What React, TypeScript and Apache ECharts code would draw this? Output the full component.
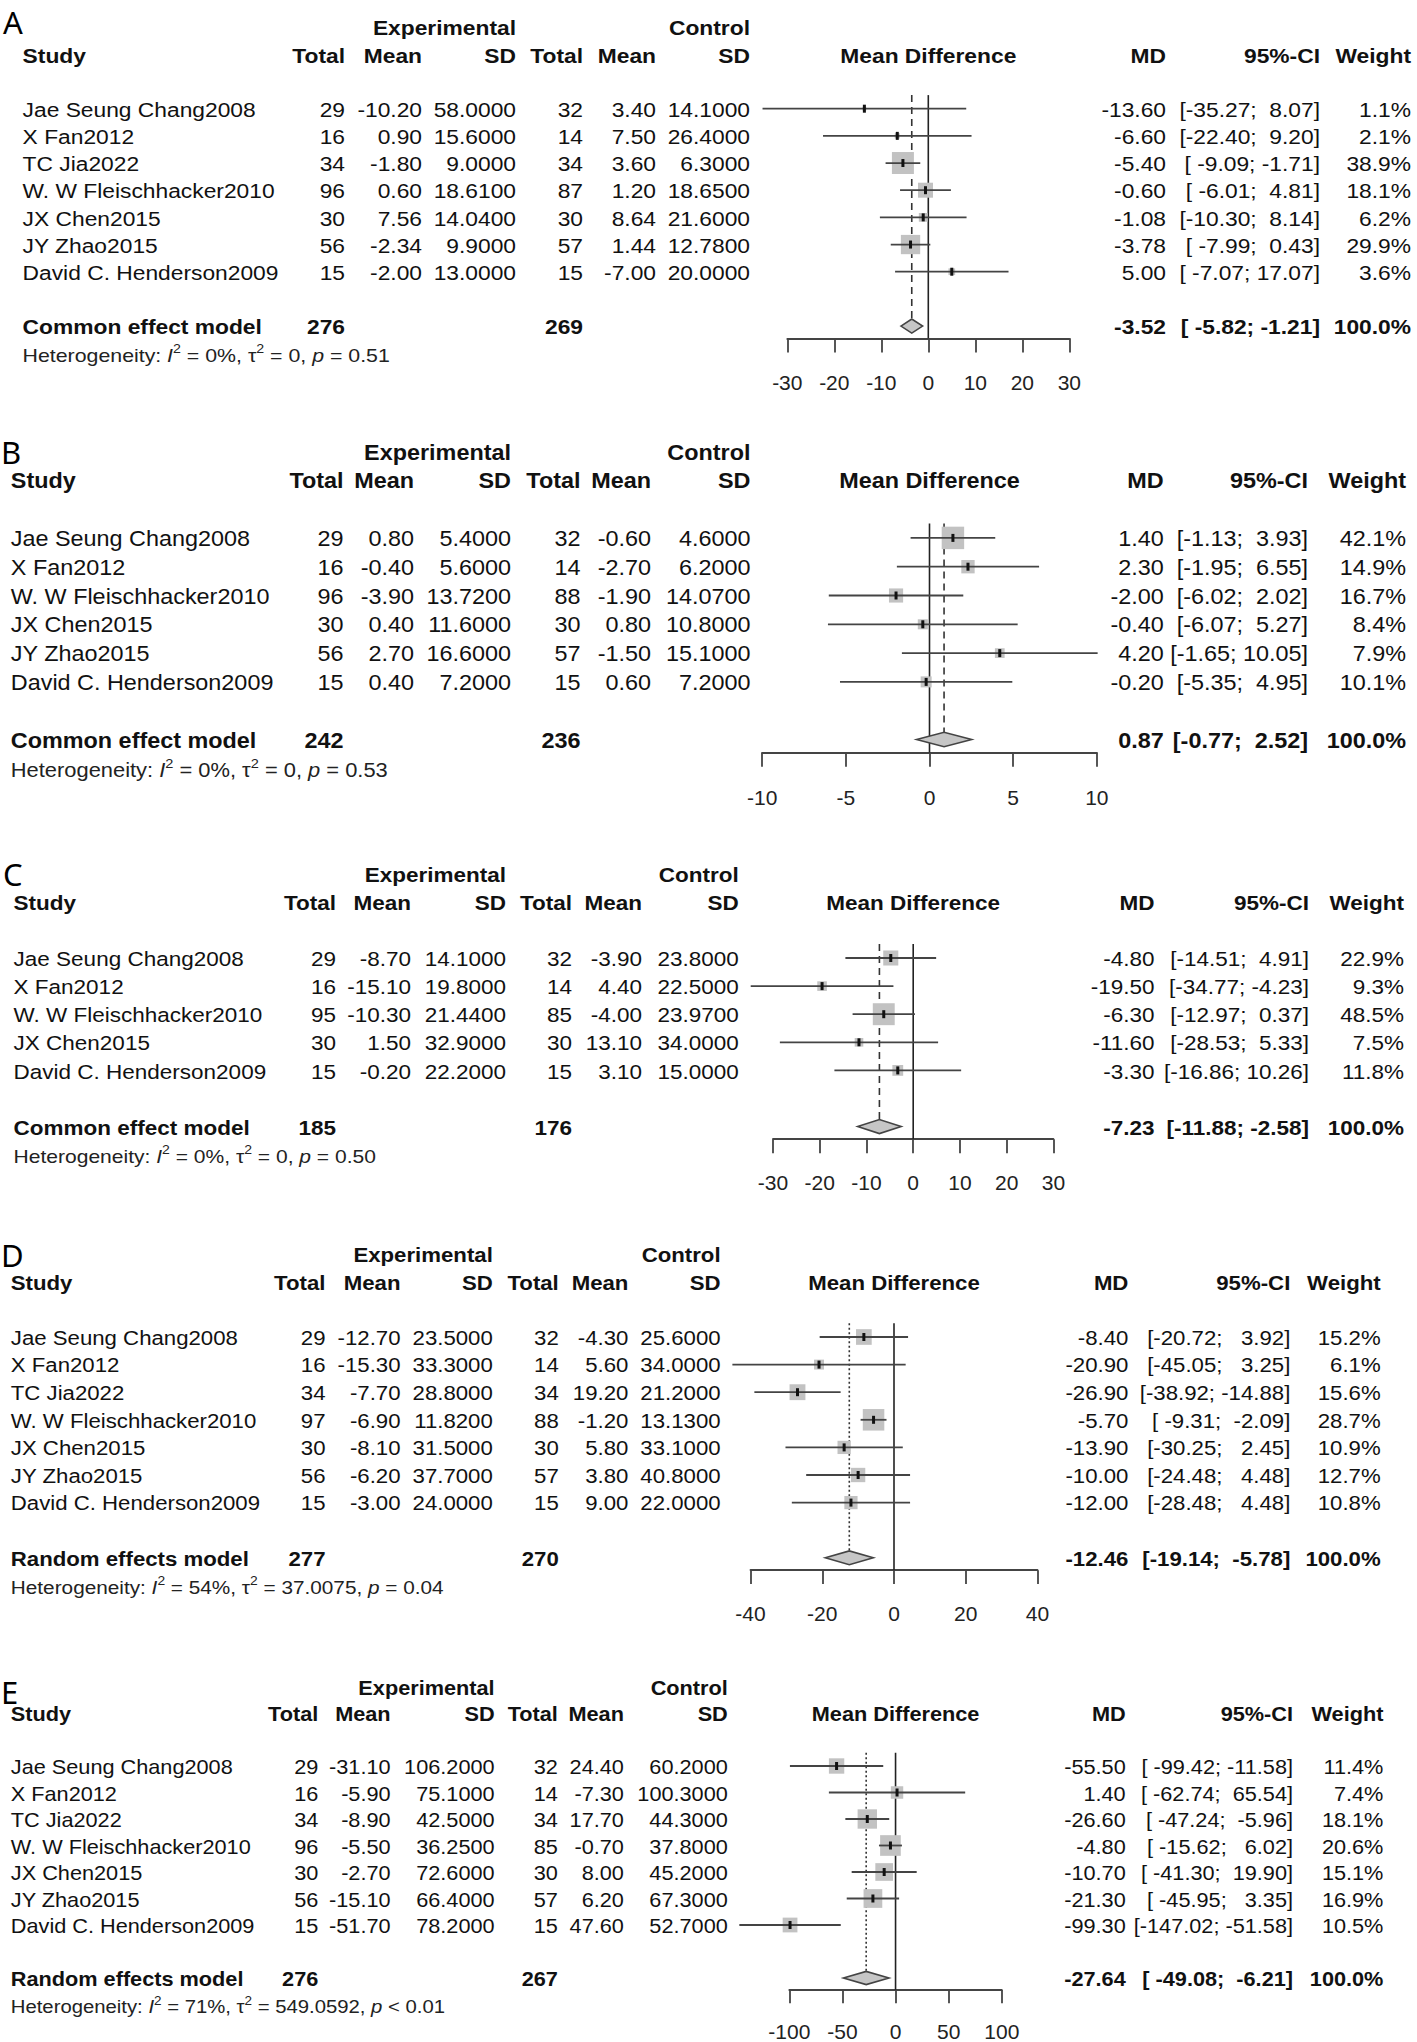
import React, { useEffect, useRef } from "react";
import * as echarts from "echarts";

const W = 1417;
const H = 2042;
const FONT = '"Liberation Sans", Arial, Helvetica, sans-serif';
const NB = "\u00a0";

// ---------------- Panel A ----------------
const A_study = ["Jae Seung Chang2008", "X Fan2012", "TC Jia2022", "W. W Fleischhacker2010", "JX Chen2015", "JY Zhao2015", "David C. Henderson2009"];
const A_expTotal = [29, 16, 34, 96, 30, 56, 15];
const A_expMean = [-10.2, 0.9, -1.8, 0.6, 7.56, -2.34, -2.0];
const A_expSD = [58, 15.6, 9, 18.61, 14.04, 9.9, 13];
const A_ctrlTotal = [32, 14, 34, 87, 30, 57, 15];
const A_ctrlMean = [3.4, 7.5, 3.6, 1.2, 8.64, 1.44, -7.0];
const A_ctrlSD = [14.1, 26.4, 6.3, 18.65, 21.6, 12.78, 20];
const A_md = [-13.6, -6.6, -5.4, -0.6, -1.08, -3.78, 5.0];
const A_lower = [-35.27, -22.4, -9.09, -6.01, -10.3, -7.99, -7.07];
const A_upper = [8.07, 9.2, -1.71, 4.81, 8.14, 0.43, 17.07];
const A_weight = [1.1, 2.1, 38.9, 18.1, 6.2, 29.9, 3.6];
const A_pooled = [-3.52, -5.82, -1.21];
const A_totals = [276, 269];
const A_model = "Common effect model";
const A_het = ["0%", "0", "= 0.51"];
const A_axis = [-30, 30, 10];

// ---------------- Panel B ----------------
const B_study = ["Jae Seung Chang2008", "X Fan2012", "W. W Fleischhacker2010", "JX Chen2015", "JY Zhao2015", "David C. Henderson2009"];
const B_expTotal = [29, 16, 96, 30, 56, 15];
const B_expMean = [0.8, -0.4, -3.9, 0.4, 2.7, 0.4];
const B_expSD = [5.4, 5.6, 13.72, 11.6, 16.6, 7.2];
const B_ctrlTotal = [32, 14, 88, 30, 57, 15];
const B_ctrlMean = [-0.6, -2.7, -1.9, 0.8, -1.5, 0.6];
const B_ctrlSD = [4.6, 6.2, 14.07, 10.8, 15.1, 7.2];
const B_md = [1.4, 2.3, -2.0, -0.4, 4.2, -0.2];
const B_lower = [-1.13, -1.95, -6.02, -6.07, -1.65, -5.35];
const B_upper = [3.93, 6.55, 2.02, 5.27, 10.05, 4.95];
const B_weight = [42.1, 14.9, 16.7, 8.4, 7.9, 10.1];
const B_pooled = [0.87, -0.77, 2.52];
const B_totals = [242, 236];
const B_model = "Common effect model";
const B_het = ["0%", "0", "= 0.53"];
const B_axis = [-10, 10, 5];

// ---------------- Panel C ----------------
const C_study = ["Jae Seung Chang2008", "X Fan2012", "W. W Fleischhacker2010", "JX Chen2015", "David C. Henderson2009"];
const C_expTotal = [29, 16, 95, 30, 15];
const C_expMean = [-8.7, -15.1, -10.3, 1.5, -0.2];
const C_expSD = [14.1, 19.8, 21.44, 32.9, 22.2];
const C_ctrlTotal = [32, 14, 85, 30, 15];
const C_ctrlMean = [-3.9, 4.4, -4.0, 13.1, 3.1];
const C_ctrlSD = [23.8, 22.5, 23.97, 34.0, 15.0];
const C_md = [-4.8, -19.5, -6.3, -11.6, -3.3];
const C_lower = [-14.51, -34.77, -12.97, -28.53, -16.86];
const C_upper = [4.91, -4.23, 0.37, 5.33, 10.26];
const C_weight = [22.9, 9.3, 48.5, 7.5, 11.8];
const C_pooled = [-7.23, -11.88, -2.58];
const C_totals = [185, 176];
const C_model = "Common effect model";
const C_het = ["0%", "0", "= 0.50"];
const C_axis = [-30, 30, 10];

// ---------------- Panel D ----------------
const D_study = ["Jae Seung Chang2008", "X Fan2012", "TC Jia2022", "W. W Fleischhacker2010", "JX Chen2015", "JY Zhao2015", "David C. Henderson2009"];
const D_expTotal = [29, 16, 34, 97, 30, 56, 15];
const D_expMean = [-12.7, -15.3, -7.7, -6.9, -8.1, -6.2, -3.0];
const D_expSD = [23.5, 33.3, 28.8, 11.82, 31.5, 37.7, 24.0];
const D_ctrlTotal = [32, 14, 34, 88, 30, 57, 15];
const D_ctrlMean = [-4.3, 5.6, 19.2, -1.2, 5.8, 3.8, 9.0];
const D_ctrlSD = [25.6, 34.0, 21.2, 13.13, 33.1, 40.8, 22.0];
const D_md = [-8.4, -20.9, -26.9, -5.7, -13.9, -10.0, -12.0];
const D_lower = [-20.72, -45.05, -38.92, -9.31, -30.25, -24.48, -28.48];
const D_upper = [3.92, 3.25, -14.88, -2.09, 2.45, 4.48, 4.48];
const D_weight = [15.2, 6.1, 15.6, 28.7, 10.9, 12.7, 10.8];
const D_pooled = [-12.46, -19.14, -5.78];
const D_totals = [277, 270];
const D_model = "Random effects model";
const D_het = ["54%", "37.0075", "= 0.04"];
const D_axis = [-40, 40, 20];

// ---------------- Panel E ----------------
const E_study = ["Jae Seung Chang2008", "X Fan2012", "TC Jia2022", "W. W Fleischhacker2010", "JX Chen2015", "JY Zhao2015", "David C. Henderson2009"];
const E_expTotal = [29, 16, 34, 96, 30, 56, 15];
const E_expMean = [-31.1, -5.9, -8.9, -5.5, -2.7, -15.1, -51.7];
const E_expSD = [106.2, 75.1, 42.5, 36.25, 72.6, 66.4, 78.2];
const E_ctrlTotal = [32, 14, 34, 85, 30, 57, 15];
const E_ctrlMean = [24.4, -7.3, 17.7, -0.7, 8.0, 6.2, 47.6];
const E_ctrlSD = [60.2, 100.3, 44.3, 37.8, 45.2, 67.3, 52.7];
const E_md = [-55.5, 1.4, -26.6, -4.8, -10.7, -21.3, -99.3];
const E_lower = [-99.42, -62.74, -47.24, -15.62, -41.3, -45.95, -147.02];
const E_upper = [-11.58, 65.54, -5.96, 6.02, 19.9, 3.35, -51.58];
const E_weight = [11.4, 7.4, 18.1, 20.6, 15.1, 16.9, 10.5];
const E_pooled = [-27.64, -49.08, -6.21];
const E_totals = [276, 267];
const E_model = "Random effects model";
const E_het = ["71%", "549.0592", "< 0.01"];
const E_axis = [-100, 100, 50];

// ---------------- Layout (pixels) ----------------
const LAYOUT = [
  { letter: "A", lx: 3, ly: 22, y0: 100, h: 28.2, xL: 787.3, xR: 1069.3, fsH: 22.8, dash: [7, 5], cols: [22.6, 345, 422, 516, 583, 656, 750, 1166, 1320, 1411] },
  { letter: "B", lx: 1, ly: 452, y0: 537.9, h: 28.8, xL: 762.2, xR: 1096.8, fsH: 23.4, dash: [7, 5], cols: [10.8, 343.6, 414, 511, 580.5, 651, 750.5, 1163.7, 1308, 1406] },
  { letter: "C", lx: 3, ly: 874, y0: 958, h: 28.1, xL: 773, xR: 1053.4, fsH: 22.5, dash: [7, 5], cols: [13.6, 336, 411, 506, 572, 642, 738.7, 1154.6, 1309, 1404] },
  { letter: "D", lx: 1, ly: 1255, y0: 1337, h: 27.6, xL: 750.5, xR: 1037.5, fsH: 22.2, dash: [2, 2.5], cols: [10.8, 325.5, 400.5, 492.8, 558.8, 628.4, 720.6, 1128.4, 1290.3, 1380.7] },
  { letter: "E", lx: 1, ly: 1692, y0: 1766, h: 26.5, xL: 789.3, xR: 1001.8, fsH: 21.7, dash: [2, 2.5], cols: [10.8, 318.3, 390.6, 494.6, 557.9, 623.9, 727.8, 1125.7, 1293, 1383.4] },
];

const PANEL_DATA = [
  { study: A_study, expTotal: A_expTotal, expMean: A_expMean, expSD: A_expSD, ctrlTotal: A_ctrlTotal, ctrlMean: A_ctrlMean, ctrlSD: A_ctrlSD, md: A_md, lower: A_lower, upper: A_upper, weight: A_weight, pooled: A_pooled, totals: A_totals, model: A_model, het: A_het, axis: A_axis },
  { study: B_study, expTotal: B_expTotal, expMean: B_expMean, expSD: B_expSD, ctrlTotal: B_ctrlTotal, ctrlMean: B_ctrlMean, ctrlSD: B_ctrlSD, md: B_md, lower: B_lower, upper: B_upper, weight: B_weight, pooled: B_pooled, totals: B_totals, model: B_model, het: B_het, axis: B_axis },
  { study: C_study, expTotal: C_expTotal, expMean: C_expMean, expSD: C_expSD, ctrlTotal: C_ctrlTotal, ctrlMean: C_ctrlMean, ctrlSD: C_ctrlSD, md: C_md, lower: C_lower, upper: C_upper, weight: C_weight, pooled: C_pooled, totals: C_totals, model: C_model, het: C_het, axis: C_axis },
  { study: D_study, expTotal: D_expTotal, expMean: D_expMean, expSD: D_expSD, ctrlTotal: D_ctrlTotal, ctrlMean: D_ctrlMean, ctrlSD: D_ctrlSD, md: D_md, lower: D_lower, upper: D_upper, weight: D_weight, pooled: D_pooled, totals: D_totals, model: D_model, het: D_het, axis: D_axis },
  { study: E_study, expTotal: E_expTotal, expMean: E_expMean, expSD: E_expSD, ctrlTotal: E_ctrlTotal, ctrlMean: E_ctrlMean, ctrlSD: E_ctrlSD, md: E_md, lower: E_lower, upper: E_upper, weight: E_weight, pooled: E_pooled, totals: E_totals, model: E_model, het: E_het, axis: E_axis },
];

const TEXT_V = 0.92; // vertical/horizontal font ratio
const SX = 1 / TEXT_V;

function ciStrings(lower: number[], upper: number[], pooled: number[]) {
  const lo = [...lower, pooled[1]].map((v) => v.toFixed(2));
  const up = [...upper, pooled[2]].map((v) => v.toFixed(2));
  const wl = Math.max(...lo.map((s) => s.length));
  const wu = Math.max(...up.map((s) => s.length));
  const pad = (s: string, w: number) => NB.repeat(w - s.length) + s;
  return lo.map((s, i) => "[" + pad(s, wl) + ";" + NB + pad(up[i], wu) + "]");
}

type Cell = { x: number | "center"; t: string; a: string; b?: boolean; het?: boolean };
type Row = { r: number; cells: Cell[] };

function buildRows(d: any): Row[] {
  const k = d.study.length;
  const ci = ciStrings(d.lower, d.upper, d.pooled);
  const rows: Row[] = [];
  rows.push({ r: -2, cells: [
    { x: 3, t: "Experimental", a: "right", b: true },
    { x: 6, t: "Control", a: "right", b: true },
  ] });
  rows.push({ r: -1, cells: [
    { x: 0, t: "Study", a: "left", b: true },
    { x: 1, t: "Total", a: "right", b: true },
    { x: 2, t: "Mean", a: "right", b: true },
    { x: 3, t: "SD", a: "right", b: true },
    { x: 4, t: "Total", a: "right", b: true },
    { x: 5, t: "Mean", a: "right", b: true },
    { x: 6, t: "SD", a: "right", b: true },
    { x: "center", t: "Mean Difference", a: "center", b: true },
    { x: 7, t: "MD", a: "right", b: true },
    { x: 8, t: "95%-CI", a: "right", b: true },
    { x: 9, t: "Weight", a: "right", b: true },
  ] });
  for (let i = 0; i < k; i++) {
    rows.push({ r: i + 1, cells: [
      { x: 0, t: d.study[i], a: "left" },
      { x: 1, t: String(d.expTotal[i]), a: "right" },
      { x: 2, t: d.expMean[i].toFixed(2), a: "right" },
      { x: 3, t: d.expSD[i].toFixed(4), a: "right" },
      { x: 4, t: String(d.ctrlTotal[i]), a: "right" },
      { x: 5, t: d.ctrlMean[i].toFixed(2), a: "right" },
      { x: 6, t: d.ctrlSD[i].toFixed(4), a: "right" },
      { x: 7, t: d.md[i].toFixed(2), a: "right" },
      { x: 8, t: ci[i], a: "right" },
      { x: 9, t: d.weight[i].toFixed(1) + "%", a: "right" },
    ] });
  }
  rows.push({ r: k + 2, cells: [
    { x: 0, t: d.model, a: "left", b: true },
    { x: 1, t: String(d.totals[0]), a: "right", b: true },
    { x: 4, t: String(d.totals[1]), a: "right", b: true },
    { x: 7, t: d.pooled[0].toFixed(2), a: "right", b: true },
    { x: 8, t: ci[k], a: "right", b: true },
    { x: 9, t: "100.0%", a: "right", b: true },
  ] });
  rows.push({ r: k + 3, cells: [
    { x: 0, t: "", a: "left", het: true },
  ] });
  return rows;
}

function makeSeries(pi: number) {
  const d: any = PANEL_DATA[pi];
  const L = LAYOUT[pi];
  const k = d.study.length;
  const wmax = Math.max(...d.weight);
  const sq = 22 * (L.h / 28.2);
  const fs = L.fsH * TEXT_V;
  const rows = buildRows(d);
  const xmin = d.axis[0];
  const xmax = d.axis[1];

  const refSeries = {
    type: "custom",
    xAxisIndex: pi,
    yAxisIndex: pi,
    silent: true,
    clip: false,
    z: 2,
    data: [[d.pooled[0], k + 2, d.pooled[1], d.pooled[2]]],
    renderItem: (_p: any, api: any) => {
      const r = api.value(1);
      const c = api.coord([api.value(0), r]);
      const lo = api.coord([api.value(2), r]);
      const hi = api.coord([api.value(3), r]);
      const hh = 0.25 * L.h;
      const zTop = api.coord([0, 0.5]);
      const zBot = api.coord([0, k + 2.45]);
      const sTop = api.coord([api.value(0), 0.5]);
      return {
        type: "group",
        children: [
          { type: "line", shape: { x1: zTop[0], y1: zTop[1], x2: zBot[0], y2: zBot[1] }, style: { stroke: "#222", lineWidth: 1.6 } },
          { type: "line", shape: { x1: sTop[0], y1: sTop[1], x2: c[0], y2: c[1] - hh }, style: { stroke: "#333", lineWidth: 1.6, lineDash: L.dash } },
          { type: "polygon", shape: { points: [[lo[0], c[1]], [c[0], c[1] - hh], [hi[0], c[1]], [c[0], c[1] + hh]] }, style: { fill: "#c6c6c6", stroke: "#444", lineWidth: 1.6 } },
        ],
      };
    },
  };

  const markSeries = {
    type: "custom",
    xAxisIndex: pi,
    yAxisIndex: pi,
    silent: true,
    clip: false,
    z: 3,
    data: d.md.map((m: number, i: number) => [m, i + 1, d.lower[i], d.upper[i], d.weight[i]]),
    renderItem: (_p: any, api: any) => {
      const r = api.value(1);
      const c = api.coord([api.value(0), r]);
      const lo = api.coord([api.value(2), r]);
      const hi = api.coord([api.value(3), r]);
      const side = sq * Math.sqrt(api.value(4) / wmax);
      return {
        type: "group",
        children: [
          { type: "rect", shape: { x: c[0] - side / 2, y: c[1] - side / 2, width: side, height: side }, style: { fill: "#c2c2c2" } },
          { type: "line", shape: { x1: lo[0], y1: c[1], x2: hi[0], y2: c[1] }, style: { stroke: "#444", lineWidth: 1.8 } },
          { type: "rect", shape: { x: c[0] - 1.5, y: c[1] - 4, width: 3, height: 8 }, style: { fill: "#111" } },
        ],
      };
    },
  };

  const textSeries = {
    type: "custom",
    xAxisIndex: pi,
    yAxisIndex: pi,
    silent: true,
    clip: false,
    z: 4,
    data: rows.map((row) => [xmin, row.r]),
    renderItem: (p: any, api: any) => {
      const row = rows[p.dataIndex];
      const y = api.coord([xmin, row.r])[1] + 1;
      const cx = api.coord([(xmin + xmax) / 2, row.r])[0];
      const children = row.cells.map((c) => {
        const x = c.x === "center" ? cx : L.cols[c.x as number];
        if (c.het) {
          const hf = fs * 0.9;
          const sf = fs * 0.6;
          const text =
            "{n|Heterogeneity:" + NB + "}{i|I}{s|2}{n|" + NB + "=" + NB + d.het[0] + "," + NB + "τ}{s|2}{n|" + NB + "=" + NB + d.het[1] + "," + NB + "}{i|p}{n|" + NB + d.het[2].replace(" ", NB) + "}";
          return {
            type: "text",
            x,
            y: y + 1,
            scaleX: 1.13,
            style: {
              text,
              fill: "#222",
              fontFamily: FONT,
              fontSize: hf,
              align: "left",
              textAlign: "left",
              verticalAlign: "middle",
              textVerticalAlign: "middle",
              rich: {
                n: { fontFamily: FONT, fontSize: hf, fill: "#222", lineHeight: hf * 1.35 },
                i: { fontFamily: FONT, fontSize: hf, fontStyle: "italic", fill: "#222", lineHeight: hf * 1.35 },
                s: { fontFamily: FONT, fontSize: sf, fill: "#222", verticalAlign: "top", lineHeight: sf },
              },
            },
          };
        }
        return {
          type: "text",
          x,
          y,
          scaleX: SX,
          style: {
            text: c.t,
            fill: "#111",
            fontFamily: FONT,
            fontSize: fs,
            fontWeight: c.b ? "bold" : "normal",
            align: c.a,
            textAlign: c.a,
            verticalAlign: "middle",
            textVerticalAlign: "middle",
          },
        };
      });
      return { type: "group", children };
    },
  };

  return [refSeries, markSeries, textSeries];
}

function buildOption() {
  const grids = LAYOUT.map((L, i) => {
    const k = PANEL_DATA[i].study.length;
    return {
      left: L.xL,
      top: L.y0 - 4 * L.h,
      width: L.xR - L.xL,
      height: (k + 5.45) * L.h,
      containLabel: false,
    };
  });
  const xAxes = LAYOUT.map((L, i) => {
    const ax = PANEL_DATA[i].axis;
    return {
      type: "value",
      gridIndex: i,
      min: ax[0],
      max: ax[1],
      interval: ax[2],
      position: "bottom",
      axisLine: { show: true, onZero: false, lineStyle: { color: "#444", width: 1.8 } },
      axisTick: { show: true, inside: false, length: 0.5 * L.h, lineStyle: { color: "#444", width: 1.8 } },
      axisLabel: { show: true, color: "#222", fontFamily: FONT, fontSize: 21, margin: 1.55 * L.h - 10.5 },
      splitLine: { show: false },
    };
  });
  const yAxes = LAYOUT.map((_L, i) => ({
    type: "value",
    gridIndex: i,
    inverse: true,
    min: -3,
    max: PANEL_DATA[i].study.length + 2.45,
    show: false,
    splitLine: { show: false },
  }));
  const letters = LAYOUT.map((L) => ({
    type: "text",
    x: L.lx,
    y: L.ly,
    silent: true,
    style: {
      text: L.letter,
      fill: "#000",
      fontFamily: '"Noto Sans", "Open Sans", sans-serif',
      fontSize: 31,
      verticalAlign: "middle",
      textVerticalAlign: "middle",
    },
  }));
  const series: any[] = [];
  LAYOUT.forEach((_L, i) => series.push(...makeSeries(i)));
  return {
    animation: false,
    backgroundColor: "#ffffff",
    grid: grids,
    xAxis: xAxes,
    yAxis: yAxes,
    graphic: letters,
    series,
  };
}

export default function App() {
  const ref = useRef<HTMLDivElement | null>(null);
  useEffect(() => {
    document.body.style.margin = "0";
    if (!ref.current) return;
    const chart = echarts.init(ref.current, null, { renderer: "svg", width: W, height: H });
    chart.setOption(buildOption() as any);
    return () => {
      chart.dispose();
    };
  }, []);
  return (
    <div
      ref={ref}
      style={{ position: "absolute", left: 0, top: 0, width: W, height: H, background: "#fff" }}
    />
  );
}
